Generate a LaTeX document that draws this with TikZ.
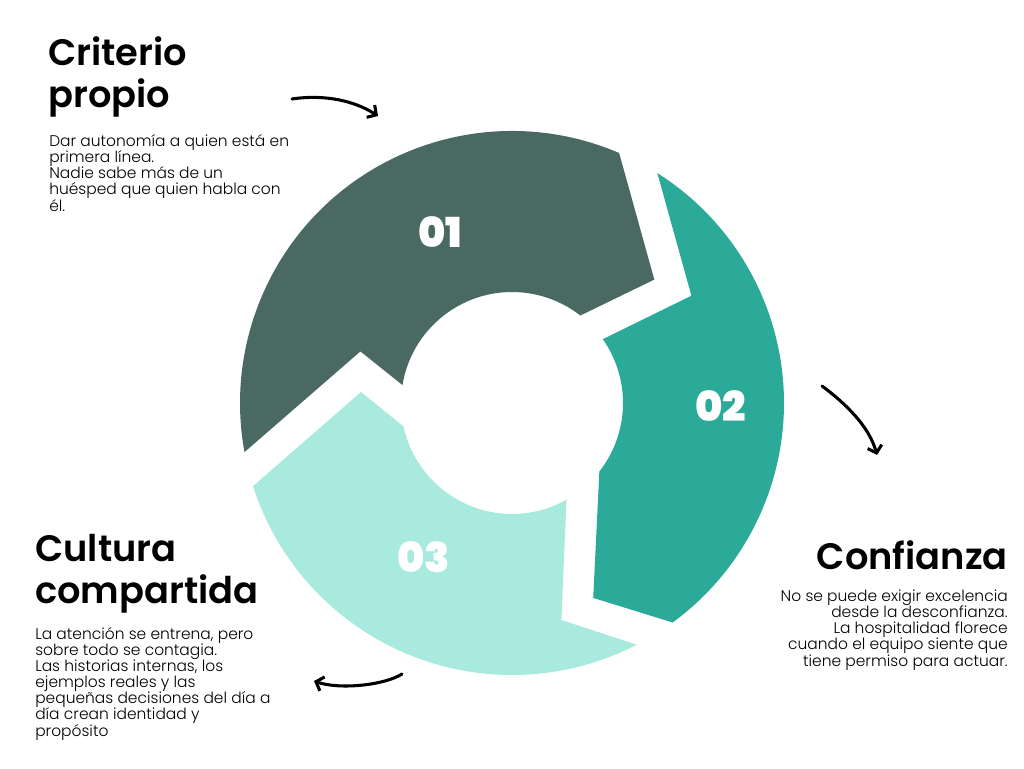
\documentclass[tikz,border=0pt]{standalone}
\usepackage{fontspec}
\usepackage{xcolor}
\usetikzlibrary{arrows.meta, calc}
\setmainfont{Poppins}
\IfFontExistsTF{Poppins Light}{\newfontfamily\bodyfont{Poppins Light}}{\newfontfamily\bodyfont{Poppins}}
\IfFontExistsTF{Poppins SemiBold}{\newfontfamily\headfont{Poppins SemiBold}}{\newfontfamily\headfont{Poppins}[FakeBold=1.5]}
\IfFontExistsTF{Poppins Black}{\newfontfamily\numfont{Poppins Black}}{\newfontfamily\numfont{Poppins}[FakeBold=3]}
\definecolor{segdark}{HTML}{4A6962}
\definecolor{segteal}{HTML}{2BAA9A}
\definecolor{segmint}{HTML}{A8EADD}

\begin{document}
\begin{tikzpicture}[
  x=0.75pt, y=-0.75pt,
  head/.style={font=\headfont\fontsize{27.6}{31.5}\selectfont, inner sep=0pt},
  body/.style={font=\bodyfont\fontsize{11.6}{12.1}\selectfont, inner sep=0pt},
  num/.style={font=\numfont\fontsize{31}{31}\selectfont, text=white, inner sep=0pt},
  sketch/.style={line width=2.3pt, line cap=round, -{Straight Barb[length=5pt, width=11pt, line width=2.3pt]}}
]
  \fill[white] (0,0) rectangle (1024,768);
  \useasboundingbox (0,0) rectangle (1024,768);

  % ring
  \coordinate (c) at (512,403);
  \fill[segdark] ($(c)+(169.6:272)$) -- (360.4,351.4) -- ($(c)+(-170.7:111)$)
    arc[start angle=-170.7, end angle=-52, radius=111] -- (654.3,279.6)
    -- ($(c)+(-66.8:272)$) arc[start angle=-66.8, end angle=-190.4, radius=272] -- cycle;
  \fill[segteal] ($(c)+(-57.7:272)$) -- (691.4,295.7) -- ($(c)+(-35.1:111)$)
    arc[start angle=-35.1, end angle=38.1, radius=111] -- (593.2,597.9)
    -- ($(c)+(53.8:272)$) arc[start angle=53.8, end angle=-57.7, radius=272] -- cycle;
  \fill[segmint] ($(c)+(62.7:272)$) -- (561.4,620) -- ($(c)+(60.6:111)$)
    arc[start angle=60.6, end angle=167.8, radius=111] -- (361,392)
    -- ($(c)+(162.2:272)$) arc[start angle=162.2, end angle=62.7, radius=272] -- cycle;

  \node[num] (n01) at (440,232) {01};
  \node[num] (n02) at (721,406) {02};
  \node[num] (n03) at (424,557) {03};

  % texts (base = last line)
  \node[head, anchor=base west, align=left] (crittitle) at (48,107) {Criterio\\propio};
  \node[body, anchor=base west, align=left] (critbody) at (49,211) {Dar autonomía a quien está en\\primera línea.\\Nadie sabe más de un\\huésped que quien habla con\\él.};
  \node[head, anchor=base east, align=right] (conftitle) at (1008,569) {Confianza};
  \node[body, anchor=base east, align=right] (confbody) at (1008,666) {No se puede exigir excelencia\\desde la desconfianza.\\La hospitalidad florece\\cuando el equipo siente que\\tiene permiso para actuar.};
  \node[head, anchor=base west, align=left] (culttitle) at (35,603) {Cultura\\compartida};
  \node[body, anchor=base west, align=left] (cultbody) at (35,736) {La atención se entrena, pero\\sobre todo se contagia.\\Las historias internas, los\\ejemplos reales y las\\pequeñas decisiones del día a\\día crean identidad y\\propósito};

  % hand drawn arrows
  \coordinate (topA) at (292,99);
  \coordinate (topB) at (378,116);
  \coordinate (rightA) at (822,386);
  \coordinate (rightB) at (877,455);
  \coordinate (botA) at (402,674);
  \coordinate (botB) at (314,681);
  \draw[sketch] (topA) .. controls (325,94) and (355,101) .. (topB);
  \draw[sketch] (rightA) .. controls (845,403) and (869,426) .. (rightB);
  \draw[sketch] (botA) .. controls (385,685) and (340,690) .. (botB);
\end{tikzpicture}
\end{document}
